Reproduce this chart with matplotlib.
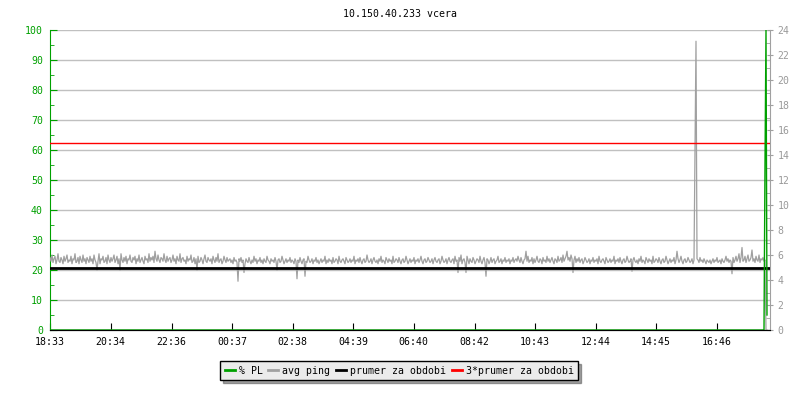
import matplotlib
matplotlib.use("Agg")
import matplotlib.pyplot as plt
import numpy as np
from matplotlib.ticker import MultipleLocator

# avg ping [ms], one sample every 2 minutes starting 18:33
avg_ping = [
    5.8, 5.5, 6.0, 5.4, 5.7, 5.9, 5.3, 5.6, 6.1, 5.5, 5.4, 5.8, 5.6, 5.3, 5.9, 5.5, 5.7, 6.0, 5.4, 5.6,
    5.5, 5.9, 5.3, 5.7, 5.6, 6.1, 5.4, 5.5, 5.8, 5.3, 5.9, 5.6, 5.4, 6.0, 5.5, 5.7, 5.3, 5.8, 5.6, 5.4,
    5.9, 5.5, 5.7, 5.3, 6.0, 5.6, 5.4, 4.8, 5.5, 6.1, 5.3, 5.7, 5.6, 5.9, 5.4, 5.5, 5.8, 5.3, 6.0, 5.6,
    5.4, 5.8, 5.5, 5.7, 6.0, 5.4, 5.6, 5.9, 5.3, 5.7, 4.8, 6.1, 5.6, 5.4, 5.8, 5.5, 5.9, 5.3, 5.7, 5.6,
    6.0, 5.5, 5.4, 5.8, 5.6, 5.9, 5.3, 5.7, 5.5, 6.0, 5.4, 5.6, 5.8, 5.5, 5.3, 5.9, 5.6, 5.7, 5.4, 6.1,
    5.5, 5.8, 5.6, 5.9, 5.4, 6.3, 5.7, 5.5, 6.0, 5.6, 5.4, 5.8, 5.7, 5.5, 6.1, 5.6, 5.4, 5.9, 5.5, 5.7,
    5.8, 5.4, 5.6, 6.0, 5.5, 5.7, 5.3, 5.9, 5.6, 5.5, 6.1, 5.4, 5.7, 5.8, 5.5, 5.6, 5.3, 5.9, 5.5, 5.7,
    5.6, 6.0, 5.4, 5.5, 5.8, 5.3, 5.7, 4.8, 5.9, 5.4, 5.5, 5.8, 5.6, 5.3, 5.7, 6.0, 5.5, 5.4, 5.8, 5.6,
    5.5, 5.7, 5.3, 5.9, 5.6, 5.4, 5.8, 5.5, 6.1, 5.4, 5.6, 5.7, 5.3, 5.5, 5.9, 5.6, 5.4, 5.8, 5.5, 5.6,
    5.7, 5.4, 5.6, 5.3, 5.8, 5.5, 5.6, 5.4, 3.9, 5.7, 5.5, 5.8, 5.4, 5.6, 4.6, 5.3, 5.7, 5.5, 5.4, 5.8,
    5.5, 5.3, 5.6, 5.4, 5.9, 5.5, 5.7, 5.3, 5.6, 5.5, 5.8, 5.4, 5.6, 5.3, 5.7, 5.5, 5.4, 5.9, 5.6, 5.5,
    5.3, 5.7, 5.5, 5.6, 5.4, 5.8, 5.5, 4.8, 5.6, 5.7, 5.4, 5.5, 5.9, 5.6, 5.3, 5.5, 5.7, 5.4, 5.6, 5.5,
    5.8, 5.4, 5.6, 5.5, 5.3, 5.7, 5.5, 4.1, 5.6, 5.4, 5.8, 5.5, 5.3, 5.6, 5.7, 4.3, 5.5, 5.4, 5.9, 5.6,
    5.4, 5.5, 5.7, 5.3, 5.6, 5.5, 5.8, 5.4, 5.6, 5.3, 5.5, 5.7, 5.4, 5.6, 5.5, 5.9, 5.3, 5.6, 5.4, 5.7,
    5.5, 5.6, 5.3, 5.8, 5.4, 5.5, 5.7, 5.6, 5.3, 5.9, 5.5, 5.4, 5.6, 5.7, 5.5, 5.3, 5.8, 5.6, 5.4, 5.5,
    5.7, 5.4, 5.6, 5.5, 5.9, 5.3, 5.6, 5.5, 5.7, 5.4, 5.8, 5.5, 5.3, 5.6, 5.7, 5.4, 5.5, 6.0, 5.6, 5.4,
    5.5, 5.7, 5.3, 5.6, 5.8, 5.5, 5.4, 5.6, 5.3, 5.7, 5.5, 5.9, 5.4, 5.6, 5.5, 5.3, 5.8, 5.6, 5.4, 5.7,
    5.5, 5.6, 5.3, 5.9, 5.4, 5.5, 5.7, 5.6, 5.4, 5.8, 5.5, 5.3, 5.6, 5.7, 5.4, 5.5, 5.9, 5.6, 5.3, 5.5,
    5.7, 5.4, 5.6, 5.5, 5.8, 5.3, 5.6, 5.5, 5.7, 5.4, 5.6, 5.9, 5.5, 5.3, 5.6, 5.7, 5.4, 5.5, 5.8, 5.6,
    5.4, 5.5, 5.7, 5.3, 5.6, 5.8, 5.5, 5.4, 5.6, 5.7, 5.3, 5.5, 5.9, 5.6, 5.4, 5.5, 5.7, 5.3, 5.6, 5.8,
    5.5, 5.4, 5.6, 5.7, 5.3, 5.9, 5.5, 5.6, 4.6, 5.8, 5.5, 6.0, 5.3, 5.6, 5.7, 5.4, 4.6, 5.9, 5.6, 5.3,
    5.7, 5.5, 5.4, 5.8, 5.6, 5.3, 5.5, 5.7, 5.6, 5.4, 5.9, 5.5, 5.3, 5.6, 5.8, 5.4, 4.3, 5.7, 5.6, 5.3,
    5.5, 5.8, 5.4, 5.6, 5.7, 5.3, 5.5, 5.6, 5.9, 5.4, 5.5, 5.7, 5.3, 5.6, 5.5, 5.8, 5.4, 5.6, 5.5, 5.7,
    5.3, 5.6, 5.5, 5.8, 5.4, 5.6, 5.7, 5.5, 5.9, 5.6, 5.4, 5.8, 5.5, 5.3, 5.6, 5.7, 6.3, 5.5, 5.9, 5.4,
    5.6, 5.5, 5.8, 5.3, 5.7, 5.4, 5.6, 5.9, 5.5, 5.4, 5.7, 5.6, 5.3, 5.8, 5.5, 5.6, 5.4, 5.9, 5.5, 5.7,
    5.4, 5.6, 5.8, 5.5, 5.3, 5.7, 5.6, 5.4, 5.9, 5.5, 5.6, 5.8, 5.4, 6.0, 5.5, 5.7, 5.9, 6.3, 5.6, 5.8,
    5.5, 6.0, 5.7, 4.6, 5.6, 5.9, 5.4, 5.7, 5.5, 5.8, 5.4, 5.6, 5.7, 5.3, 5.5, 5.8, 5.6, 5.4, 5.5, 5.7,
    5.3, 5.6, 5.5, 5.8, 5.4, 5.6, 5.5, 5.7, 5.3, 5.9, 5.5, 5.4, 5.6, 5.7, 5.5, 5.3, 5.8, 5.6, 5.4, 5.5,
    5.7, 5.4, 5.6, 5.5, 5.9, 5.3, 5.6, 5.5, 5.7, 5.4, 5.8, 5.5, 5.3, 5.6, 5.7, 5.4, 5.5, 5.9, 5.6, 5.4,
    5.5, 5.7, 4.7, 5.6, 5.8, 5.5, 5.4, 5.6, 5.3, 5.7, 5.5, 5.9, 5.4, 5.6, 5.5, 5.3, 5.8, 5.6, 5.4, 5.7,
    5.5, 5.6, 5.3, 5.9, 5.4, 5.5, 5.7, 5.6, 5.4, 5.8, 5.5, 5.3, 5.6, 5.7, 5.4, 5.5, 5.9, 5.6, 5.3, 5.5,
    5.7, 5.4, 5.6, 5.5, 5.8, 5.3, 5.6, 6.3, 5.7, 5.4, 5.6, 5.9, 5.5, 5.3, 5.6, 5.7, 5.4, 5.5, 5.8, 5.6,
    5.4, 5.5, 5.7, 5.3, 5.6, 14.3, 23.1, 5.7, 5.6, 5.4, 5.8, 5.5, 5.6, 5.4, 5.7, 5.5, 5.3, 5.6, 5.5, 5.4,
    5.6, 5.3, 5.5, 5.7, 5.4, 5.6, 5.5, 5.8, 5.4, 5.5, 5.6, 5.3, 5.7, 5.5, 5.4, 5.6, 5.9, 5.5, 5.7, 5.4,
    5.6, 5.5, 4.5, 5.8, 5.4, 5.6, 5.9, 5.5, 5.7, 6.1, 5.4, 5.8, 6.6, 5.5, 5.6, 5.9, 5.4, 5.7, 6.0, 5.5,
    5.6, 5.8, 6.4, 5.5, 5.7, 5.4, 5.9, 5.6, 5.5, 6.0, 5.4, 5.7, 5.6, 5.8, 5.5, 5.6, 0.0, 0.0,
]
# packet loss [%], zero until the last samples
pl_tail = [55, 100, 5]
packet_loss = [0] * (len(avg_ping) - len(pl_tail)) + pl_tail

prumer = 5.0          # period average of ping [ms]
prumer3 = 3 * prumer

tick_minutes = [0, 121, 243, 364, 485, 606, 727, 849, 970, 1091, 1212, 1333]
tick_labels = ["18:33", "20:34", "22:36", "00:37", "02:38", "04:39",
               "06:40", "08:42", "10:43", "12:44", "14:45", "16:46"]

minutes = np.arange(len(avg_ping)) * 2

green = "#00a000"
gray = "#a0a0a0"
plt.rcParams["font.family"] = "DejaVu Sans Mono"
plt.rcParams["font.size"] = 7.1

fig = plt.figure(figsize=(8, 4), dpi=100)
ax = fig.add_axes([0.0625, 0.175, 0.9, 0.75])
ax2 = ax.twinx()

# left axis: packet loss
ax.set_xlim(0, 1440)
ax.set_ylim(0, 100)
ax.yaxis.set_major_locator(MultipleLocator(10))
ax.yaxis.set_minor_locator(MultipleLocator(5))
ax.grid(axis="y", color="#c0c0c0", lw=1)
ax.set_axisbelow(True)
ax.set_xticks(tick_minutes)
ax.set_xticklabels(tick_labels)
ax.tick_params(axis="x", direction="in", length=5, color="black", pad=5)
ax.tick_params(axis="y", which="major", direction="in", length=5, color=green, labelcolor=green, pad=5)
ax.tick_params(axis="y", which="minor", direction="in", length=3, color=green)
ax.spines["left"].set_color(green)
ax.spines["top"].set_visible(False)
ax.spines["right"].set_visible(False)

# right axis: ping
ax2.set_ylim(0, 24)
ax2.yaxis.set_major_locator(MultipleLocator(2))
ax2.yaxis.set_minor_locator(MultipleLocator(1))
ax2.tick_params(axis="y", which="major", direction="inout", length=5, color=gray, labelcolor="#999999", pad=3)
ax2.tick_params(axis="y", which="minor", direction="in", length=3, color=gray)
ax2.spines["right"].set_color(gray)
for s in ["left", "top"]:
    ax2.spines[s].set_visible(False)
ax2.spines["bottom"].set_color("black")
ax2.spines["bottom"].set_zorder(5)

ax2.plot(minutes, avg_ping, color=gray, lw=0.9, label="avg ping", zorder=2)
ax2.axhline(prumer, color="black", lw=2, label="prumer za obdobi", zorder=3)
ax2.axhline(prumer3, color="red", lw=1, label="3*prumer za obdobi", zorder=3)
ax2.plot(minutes, packet_loss, color=green, lw=1, label="% PL", zorder=4,
         transform=ax.transData)

fig.text(0.5, 0.966, "10.150.40.233 vcera", ha="center", va="center")

handles, labels = ax2.get_legend_handles_labels()
order = [3, 0, 1, 2]
leg = fig.legend([handles[i] for i in order], [labels[i] for i in order],
                 loc="center", bbox_to_anchor=(0.499, 0.073), ncol=4,
                 frameon=True, fancybox=False, shadow=True,
                 handlelength=1.0, handletextpad=0.4, columnspacing=0.6,
                 borderpad=0.45)
leg.get_frame().set_facecolor("#ebebeb")
leg.get_frame().set_edgecolor("black")
for line in leg.get_lines():
    line.set_linewidth(2)

fig.savefig("out.png", dpi=100)
